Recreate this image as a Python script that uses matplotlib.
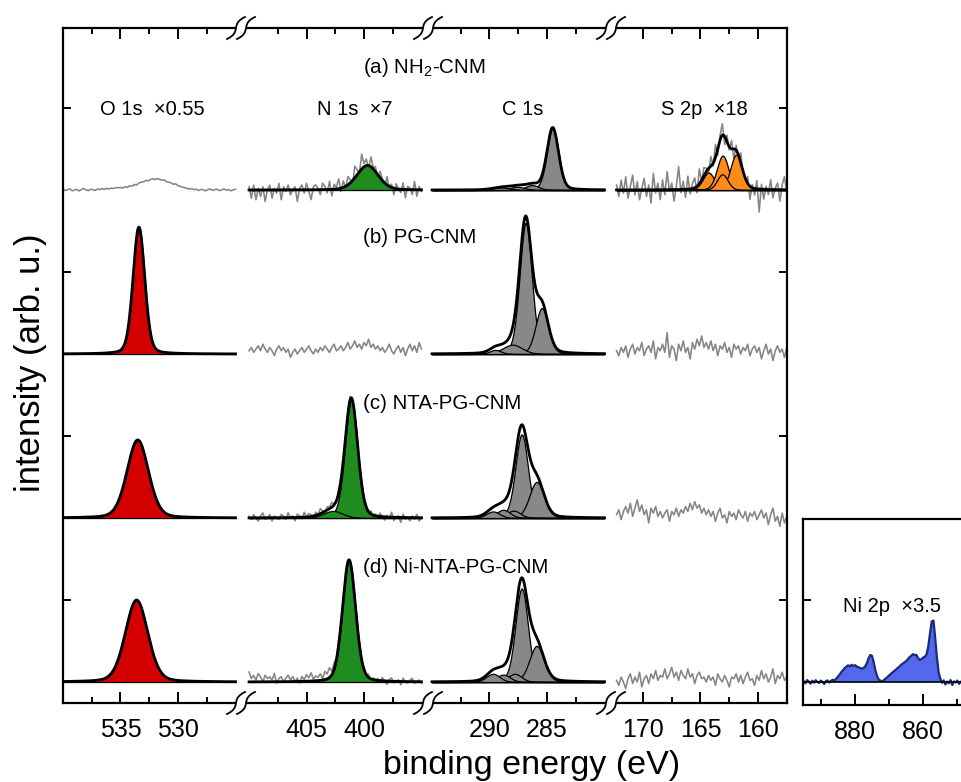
import numpy as np
import matplotlib
matplotlib.use("Agg")
import matplotlib.pyplot as plt
from matplotlib.lines import Line2D
from matplotlib.patches import Polygon

plt.rcParams['font.family'] = ['Liberation Sans', 'DejaVu Sans']
plt.rcParams['mathtext.fontset'] = 'custom'
plt.rcParams['mathtext.rm'] = 'Liberation Sans'

# ---- data -------------------------------------------------------------
samples = ['(a) NH$_\\mathrm{2}$-CNM', '(b) PG-CNM', '(c) NTA-PG-CNM', '(d) Ni-NTA-PG-CNM']
offsets = [300, 200, 100, 0]          # vertical stacking of rows a..d
label_y = [375, 271, 170, 70]

regions = ['O 1s  \u00d70.55', 'N 1s  \u00d77', 'C 1s', 'S 2p  \u00d718']
region_ranges = [(540, 525), (410, 395), (295, 280), (172.3, 157.5)]
title_x = [532.2, 400.8, 287.1, 164.7]
major_ticks = [[535, 530], [405, 400], [290, 285], [170, 165, 160]]
minor_ticks = [[537.5, 532.5, 527.5], [407.5, 402.5, 397.5], [292.5, 287.5, 282.5], [167.5, 162.5]]
step = 0.2   # eV, spacing of the raw traces

# fitted components: (centre eV, height, fwhm eV); None = no fit drawn
o1s_fit = [None,
           [(533.4, 77.4, 1.2)],
           [(533.5, 47.6, 2.2)],
           [(533.6, 50.0, 2.3)]]
n1s_fit = [[(399.7, 15.0, 2.2)],
           None,
           [(401.1, 72.5, 1.3), (402.7, 4.3, 2.0)],
           [(401.3, 74.5, 1.35)]]
c1s_fit = [[(284.5, 38.0, 1.2), (286.3, 3.0, 1.4), (287.6, 2.0, 1.5), (289.0, 1.5, 1.8)],
           [(286.85, 80.0, 1.25), (285.45, 28.0, 1.3), (288.0, 5.7, 2.0), (289.5, 2.5, 1.2)],
           [(287.2, 51.0, 1.3), (285.9, 22.0, 1.5), (287.9, 4.5, 1.4), (288.8, 5.0, 1.4), (289.7, 4.0, 1.4)],
           [(287.2, 57.0, 1.3), (285.9, 22.0, 1.5), (287.8, 5.0, 1.4), (288.8, 4.5, 1.4), (289.7, 5.0, 1.4)]]
s2p_fit = [[(164.3, 10.6, 1.2), (163.07, 21.0, 1.2), (161.9, 21.5, 1.2), (163.1, 9.6, 1.1)],
           None, None, None]

# raw traces; *_resid are deviations from the fit
o1s_a_data = [0.5, -0.3, 0.2, 0.8, -0.5, 0.0, 0.4, -0.6, 0.3, 0.9, 0.1, -0.4, 0.5, 0.2, -0.2, 0.6, 0.3, 0.9, 0.4, 1.0,
              0.6, 1.2, 0.9, 1.5, 1.4, 1.5, 1.2, 2.0, 1.6, 2.6, 2.3, 3.4, 3.0, 4.3, 4.8, 5.0, 5.9, 5.5, 6.4, 6.9,
              6.3, 7.0, 6.5, 6.0, 6.2, 5.1, 4.8, 4.4, 3.5, 3.8, 2.6, 2.2, 1.8, 1.3, 1.0, 0.6, 0.9, 0.2, 0.5, -0.3,
              0.4, 0.1, -0.5, 0.3, 0.6, -0.2, 0.2, 0.5, -0.4, 0.1, 0.7, -0.1, 0.3, -0.5, 0.2, 0.4]
n1s_a_resid = [2, -5, 3, -6, 1, -4, 2, -7, 0, 3, -5, 1, -2, 4, -6, 2, -1, 3, -3, 0, 2, -7, 1, 3, -2, 4, -1, -6, 2, 3,
               1, -3, 4, 2, -2, 5, -4, 3, 1, 6, -2, 4, -1, 5, 2, -3, 7, 3, -1, 9, 2, 4, -2, 6, 1, 3,
               -2, 4, 1, -3, 5, -1, 2, -4, 3, 0, -2, 4, -5, 2, 1, -3, 5, -4, 2, -1]
n1s_b_data = [2, 4, 1, 3, 5, 2, 6, 3, 1, 4, 2, -1, 3, 5, 2, 4, 1, 3, -2, 1, 3, 0, 2, 4, 1, 3, 5, 2, 0, 3,
              1, 4, 2, 5, 3, 1, 4, 6, 2, 3, 5, 2, 4, 7, 3, 5, 8, 4, 6, 3, 7, 5, 9, 4, 6, 3,
              5, 2, 4, 1, 3, 6, 2, 0, 3, 5, 1, 4, -1, 3, 6, 2, 5, 1, 7, 3]
n1s_c_resid = [1, -1, 2, 0, -2, 1, 3, -1, 0, 2, -2, 1, 0, -1, 2, 1, -1, 3, 0, 1, -2, 2, 1, -1, 3, 0, 2, 1, -1, 2,
               0, 3, 1, -1, 2, 1, 3, 0, -1, 2, 1, 0, -2, 1, 2, -1, 1, 0, -1, 2, 0, 1, -1, 2, 0, 1,
               -1, 2, 0, -2, 1, -1, 3, -2, 0, 1, -3, 2, -1, 0, -2, 1, -1, 2, -2, 0]
n1s_d_resid = [6, 2, 4, 1, 5, 3, 0, 4, 2, 3, 1, 5, -1, 2, 3, 0, 2, 4, 1, 3, 0, 2, -1, 3, 1, 4, 2, 5, 1, 3,
               2, 4, 1, 5, 3, 6, 2, 4, 1, 3, 0, 2, -1, 1, 0, 2, -1, 1, 0, -1, 1, 0, 2, -1, 1, 0,
               1, -1, 2, 0, -2, 1, 2, -1, 0, 1, -2, 2, 0, -1, 1, 2, -1, 0, 1, -1]
s2p_a_resid = [3, -4, 6, -2, 8, -5, 2, 9, -3, 5, -6, 1, 7, -4, 3, -8, 10, -2, 4, -6,
               6, -3, 11, -1, 4, -7, 2, 14, -2, 5, -5, 8, -3, 3, 6, -4, 9, -1, 5, 2,
               -3, 6, -2, 8, -4, 3, 7, -5, 4, -2, 5, -6, 3, -3, 6, -2, -5, 4, -8, 2,
               -4, 5, -14, 3, -6, 2, -3, 6, -5, 1, 4, -7, 3, 8, -2]
s2p_b_data = [2, -1, 4, 1, 5, -2, 3, 6, 0, 4, 2, 7, -1, 3, 5, 1, 8, -3, 4, 2,
              6, 1, 13, -2, 5, 3, -4, 6, 2, 8, 1, 4, -3, 7, 3, 9, 5, 11, 4, 7,
              3, 8, 2, 6, -1, 5, 3, 7, 1, 4, -2, 6, 3, 5, 0, 4, 2, 6, -1, 3,
              5, 1, 4, -3, 2, 6, 0, 3, -4, 2, 5, 1, 3, -2, 4]
s2p_c_data = [2, 5, -1, 4, 7, 3, 9, 1, 6, 11, 4, 8, 2, 5, -3, 6, 3, 7, 1, 4,
              0, 3, 5, -2, 4, 2, 6, 1, 5, 3, 7, 4, 9, 5, 10, 6, 8, 3, 6, 2,
              5, 1, 4, -2, 3, 6, 0, 2, -3, 4, 1, 3, -1, 5, 2, 0, 4, -2, 3, 1,
              4, -1, 2, 5, 0, 3, -4, 2, 6, -2, 1, -5, 3, -3, 1]
s2p_d_data = [1, -2, 3, 0, -4, 2, 5, -1, 3, 0, 6, -3, 2, 4, -1, 5, 2, 7, 1, 4,
              3, 8, 2, 5, 9, 3, 6, 1, 7, 4, 2, 8, 3, 5, -1, 4, 6, 2, 3, 0,
              4, 1, 3, -2, 5, 2, 0, 4, 1, -3, 3, 2, 5, 0, 4, -1, 3, 6, 1, 2,
              -2, 4, 1, 7, 2, 5, 0, 3, 8, -1, 4, 2, 6, 1, 3]

# Ni 2p of sample (d), 895 -> 845 eV in 0.5 eV steps
ni2p_start, ni2p_step = 895.0, 0.5
ni2p_data = [0.5, -0.8, 1.2, 0.3, -1.0, 0.8, -0.4, 1.1, 0.2, -0.6, 0.9, 0.0, -1.2, 0.6, 1.0, -0.3, 0.7, 1.4, 0.9,
             2.0, 3.2, 4.5, 6.0, 7.2, 8.5,
             9.4, 10.2, 9.6, 10.5, 9.8, 10.3, 9.5, 9.0, 8.6, 8.2, 8.5, 9.5, 11.5, 14.5, 16.5, 16.0, 12.0, 7.0, 3.5, 1.5, 0.8, 0.5,
             1.2, 2.2, 3.0, 4.0, 5.0, 5.8, 6.8, 7.5, 8.6, 9.4, 10.5, 11.2, 12.0, 12.8, 14.0, 15.2, 16.0, 17.0, 16.5,
             16.5, 14.5, 13.4, 14.0, 15.0, 15.5, 17.0, 22.0, 30.0, 37.0, 37.5, 27.0, 15.0, 6.0, 2.0,
             -0.5, 1.0, -1.5, 0.3, -0.8, 1.2, -1.8, 0.4, -0.3, 0.9, -1.1, 0.2, 0.8, -0.6, 0.5, -0.2, 1.0, -0.9, 0.3, 0.1]

fits = [o1s_fit, n1s_fit, c1s_fit, s2p_fit]
# (values, residual?) per region and row
raw = [[(o1s_a_data, False), None, None, None],
       [(n1s_a_resid, True), (n1s_b_data, False), (n1s_c_resid, True), (n1s_d_resid, True)],
       [None, None, None, None],
       [(s2p_a_resid, True), (s2p_b_data, False), (s2p_c_data, False), (s2p_d_data, False)]]

fill_colors = ['#d40000', '#1f8c1f', '#888888', '#ff8c1a']
gray = '#858585'


def peak(x, c, h, w, eta=0.2):
    g = np.exp(-4 * np.log(2) * ((x - c) / w) ** 2)
    l = 1 / (1 + 4 * ((x - c) / w) ** 2)
    return h * ((1 - eta) * g + eta * l)


def envelope(x, comps):
    return sum(peak(x, *p) for p in comps)


# ---- layout (pixels of a 961x782 canvas) -----------------------------
W, H = 961, 782
fig = plt.figure(figsize=(W / 100, H / 100), dpi=100)
edges = [63, 241, 428, 611, 787]
top_px, bot_px = 28, 703
xlims = [(540.0, 524.52), (410.7, 394.43), (295.35, 279.43), (172.78, 157.48)]

axes = []
for k in range(4):
    ax = fig.add_axes([edges[k] / W, 1 - bot_px / H, (edges[k + 1] - edges[k]) / W, (bot_px - top_px) / H])
    ax.set_facecolor('none')
    ax.set_xlim(*xlims[k])
    ax.set_ylim(-12.8, 398.8)
    for s in ax.spines.values():
        s.set_linewidth(1.6)
    ax.spines['left'].set_visible(k == 0)
    ax.spines['right'].set_visible(k == 3)
    ax.set_xticks(major_ticks[k])
    ax.set_xticks(minor_ticks[k], minor=True)
    ax.set_xticklabels([str(t) for t in major_ticks[k]])
    ax.set_yticks([50, 150, 250, 350])
    ax.tick_params(which='both', direction='in', top=True, bottom=True,
                   left=(k == 0), right=(k == 3), labelleft=False, width=1.4, labelsize=18, pad=11)
    ax.tick_params(which='major', length=8)
    ax.tick_params(which='minor', length=4.5)
    ax.tick_params(axis='y', length=6)
    axes.append(ax)

for k, ax in enumerate(axes):
    e0, e1 = region_ranges[k]
    xf = np.linspace(e0, e1, 700)
    for r in range(4):
        off = offsets[r]
        comps = fits[k][r]
        if raw[k][r] is not None:
            vals, is_resid = raw[k][r]
            y = np.array(vals, dtype=float)
            xe = e0 - step * np.arange(len(y))
            if is_resid:
                y = y + envelope(xe, comps)
            ax.plot(xe, off + y, color=gray, lw=1.15, zorder=1)
        if comps:
            for p in comps:
                ax.fill_between(xf, off, off + peak(xf, *p), facecolor=fill_colors[k],
                                edgecolor='black', lw=0.9, zorder=2)
            ax.plot(xf, off + envelope(xf, comps), color='black', lw=2.0, zorder=3)
    ax.text(title_x[k], 348.8, regions[k], ha='center', va='center', fontsize=14.5)

for r in range(4):
    axes[1].text(400.1, label_y[r], samples[r], ha='left', va='center', fontsize=14.8, clip_on=False, zorder=5)

# Ni 2p panel
axn = fig.add_axes([803 / W, 1 - 705 / H, (1010 - 803) / W, (705 - 519) / H])
axn.set_facecolor('none')
axn.set_xlim(895.2, 834.6)
axn.set_ylim(-14.0, 99.4)
for s in axn.spines.values():
    s.set_linewidth(1.6)
ni_x = ni2p_start - ni2p_step * np.arange(len(ni2p_data))
axn.fill_between(ni_x, 0, ni2p_data, facecolor='#5468ee', edgecolor='none', zorder=1)
axn.plot(ni_x, ni2p_data, color='#1c2a7a', lw=1.6, zorder=2)
axn.axhline(0, color='black', lw=1.2, zorder=3)
axn.set_xticks([880, 860])
axn.set_xticks([890, 870, 850], minor=True)
axn.set_yticks([50])
axn.tick_params(which='both', direction='in', top=False, right=False, labelleft=False,
                width=1.4, labelsize=18, pad=11)
axn.tick_params(which='major', length=8)
axn.tick_params(which='minor', length=4.5)
axn.tick_params(axis='y', length=6)
axn.text(869.2, 46.3, 'Ni 2p  \u00d73.5', ha='center', va='center', fontsize=14.5)


# axis break marks
def break_mark(xc, yc):
    u = np.linspace(-1, 1, 40)
    dx = 7 * u ** 3 + 2 * u
    dy = 11 * u
    c1x, c2x = (xc - 5 + dx) / W, (xc + 5 + dx) / W
    cy = 1 - (yc - dy) / H
    mask = Polygon(np.column_stack([np.r_[c1x, c2x[::-1]], np.r_[cy, cy[::-1]]]),
                   closed=True, facecolor='white', edgecolor='none', transform=fig.transFigure, zorder=10)
    fig.add_artist(mask)
    for cx in (c1x, c2x):
        fig.add_artist(Line2D(cx, cy, color='black', lw=1.3, transform=fig.transFigure, zorder=11))


for xb in edges[1:4]:
    break_mark(xb, top_px)
    break_mark(xb, bot_px)

fig.text(31 / W, 1 - 363 / H, 'intensity (arb. u.)', rotation=90, ha='center', va='center', fontsize=25)
fig.text(532 / W, 1 - 781 / H, 'binding energy (eV)', ha='center', va='bottom', fontsize=24.5)

fig.savefig('out.png', dpi=100)
